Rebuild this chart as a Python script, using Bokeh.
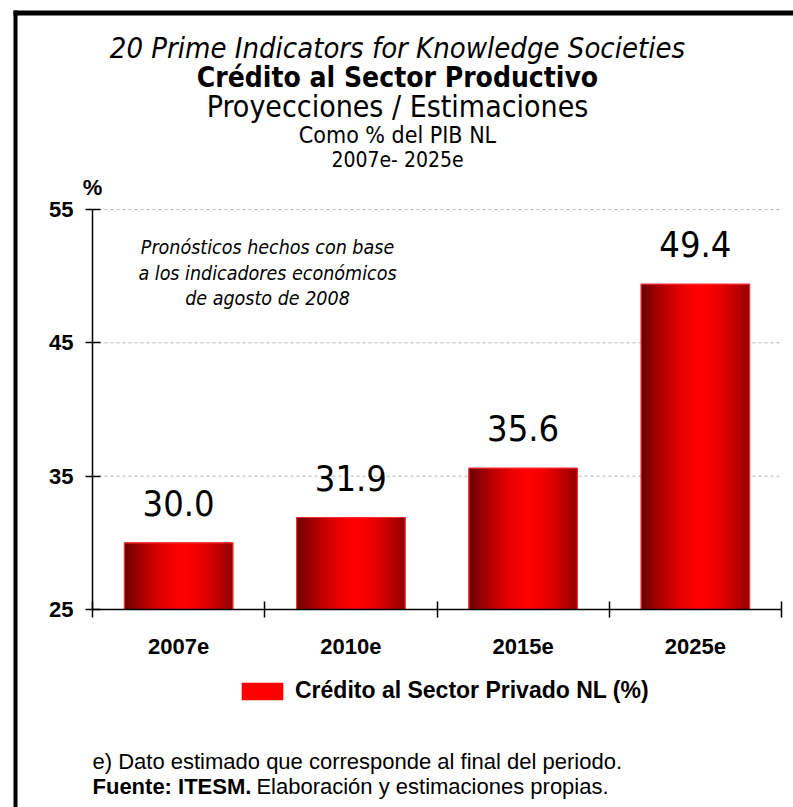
import numpy as np
from bokeh.plotting import figure
from bokeh.models import Range1d, FixedTicker, Label, Legend, LegendItem, BoxAnnotation
from bokeh.embed import file_html
from bokeh.resources import INLINE

# ---------------- data ----------------
categories = ["2007e", "2010e", "2015e", "2025e"]
values = [30.0, 31.9, 35.6, 49.4]
value_labels = ["30.0", "31.9", "35.6", "49.4"]
y_ticks = [25, 35, 45, 55]
title_lines = [
    "20 Prime Indicators for Knowledge Societies",
    "Crédito al Sector Productivo",
    "Proyecciones / Estimaciones",
    "Como % del PIB NL",
    "2007e- 2025e",
]
note_lines = [
    "Pronósticos hechos con base",
    "a los indicadores económicos",
    "de agosto de 2008",
]
legend_label = "Crédito al Sector Privado NL (%)"
footer_line1 = "e) Dato estimado que corresponde al final del periodo."
footer_bold = "Fuente: ITESM."
footer_rest = "Elaboración y estimaciones propias."
y_unit = "%"

# ---------------- layout ----------------
W, H = 793, 807
AX_L, AX_R = 92, 781          # page px of x = 0 and x = n
AX_T, AX_B = 209, 609         # page px of top / bottom y tick
n = len(categories)
Y0, Y1 = y_ticks[0], y_ticks[-1]
PXX = (AX_R - AX_L) / n
PXY = (AX_B - AX_T) / (Y1 - Y0)
NARROW = "DejaVu Sans Condensed, Roboto Condensed, Liberation Sans Narrow, Roboto"
SANS = "Liberation Sans"


def dx(px):
    return (px - AX_L) / PXX


def dy(py):
    return Y1 - (py - AX_T) / PXY


p = figure(width=W, height=H,
           x_range=Range1d(dx(0), dx(W)), y_range=Range1d(dy(H), dy(0)),
           output_backend="svg", toolbar_location=None,
           min_border=0, min_border_left=0, min_border_right=0,
           min_border_top=0, min_border_bottom=0)
p.outline_line_color = None
p.background_fill_color = "white"
p.border_fill_color = "white"

# ---------------- bars ----------------
centers = [i + 0.5 for i in range(n)]
bw = 0.63

base = p.vbar(x=centers, width=bw, top=values, bottom=Y0,
              fill_color="#ff0000", line_color=None)

NS = 54
sx_, sw_, st_, sc_ = [], [], [], []
dark = np.array([100, 0, 0])
bright = np.array([255, 0, 0])
for c, v in zip(centers, values):
    for k in range(NS):
        t = (k + 0.5) / NS
        f = max(0.0, 1 - (abs(t - 0.55) / 0.55) ** 1.6)
        col = dark + (bright - dark) * f
        sx_.append(c - bw / 2 + t * bw)
        sw_.append(bw / NS * 1.25)
        st_.append(v)
        sc_.append("#%02x%02x%02x" % tuple(int(round(a)) for a in col))
p.vbar(x=sx_, width=sw_, top=st_, bottom=Y0, fill_color=sc_, line_color=None)
p.vbar(x=centers, width=bw, top=values, bottom=Y0,
       fill_color=None, line_color="#ff2a2a", line_width=1.2)

# value labels
p.text(x=centers, y=values, text=value_labels, text_align="center",
       text_baseline="alphabetic", y_offset=-40,
       text_font={"value": NARROW}, text_font_size="36px", text_color="black")

# grid lines (dashed), from the tick values
grid_y = y_ticks[1:]
p.segment(x0=[0] * len(grid_y), x1=[n] * len(grid_y), y0=grid_y, y1=grid_y,
          line_color="#b4b4b4", line_dash="3 3", line_width=1, level="underlay")
p.grid.visible = False

# ---------------- axes ----------------
ya = p.yaxis[0]
ya.fixed_location = 0
ya.bounds = (Y0, Y1)
ya.ticker = FixedTicker(ticks=y_ticks, minor_ticks=[])
ya.major_tick_in = 8
ya.major_tick_out = 7
ya.minor_tick_in = 0
ya.minor_tick_out = 0
ya.axis_line_color = "black"
ya.axis_line_width = 1.5
ya.major_tick_line_color = "black"
ya.major_tick_line_width = 1.5
ya.major_label_text_color = "black"
ya.major_label_text_font = SANS
ya.major_label_text_font_style = "bold"
ya.major_label_text_font_size = "22px"
ya.major_label_standoff = 12

xa = p.xaxis[0]
xa.fixed_location = Y0
xa.bounds = (0, n)
xa.ticker = FixedTicker(ticks=centers, minor_ticks=list(range(n + 1)))
xa.major_label_overrides = {c: lab for c, lab in zip(centers, categories)}
xa.major_tick_in = 0
xa.major_tick_out = 0
xa.minor_tick_in = 8
xa.minor_tick_out = 8
xa.minor_tick_line_color = "black"
xa.minor_tick_line_width = 1.5
xa.axis_line_color = "black"
xa.axis_line_width = 1.5
xa.major_label_text_color = "black"
xa.major_label_text_font = SANS
xa.major_label_text_font_style = "bold"
xa.major_label_text_font_size = "22px"
xa.major_label_standoff = 21

# ---------------- texts ----------------
title_specs = [  # (y page px, size, style)
    (47, "29px", "italic"),
    (77, "28px", "bold"),
    (106, "30px", "normal"),
    (134, "23px", "normal"),
    (159, "21px", "normal"),
]
for txt, (yy, sz, st) in zip(title_lines, title_specs):
    p.add_layout(Label(x=dx(397), y=dy(yy), text=txt, text_align="center",
                       text_baseline="middle", text_font=NARROW,
                       text_font_size=sz, text_font_style=st, text_color="black"))

p.add_layout(Label(x=dx(92), y=dy(187), text=y_unit, text_align="center",
                   text_baseline="middle", text_font=SANS, text_font_size="22px",
                   text_font_style="bold", text_color="black"))

for txt, yy in zip(note_lines, [247, 273, 298]):
    p.add_layout(Label(x=dx(267), y=dy(yy), text=txt, text_align="center",
                       text_baseline="middle", text_font=NARROW,
                       text_font_size="19.5px", text_font_style="italic",
                       text_color="black"))

FS = 22
p.add_layout(Label(x=dx(92), y=dy(761), text=footer_line1, text_align="left",
                   text_baseline="middle", text_font=SANS, text_font_size=f"{FS}px",
                   text_color="black"))
p.add_layout(Label(x=dx(92), y=dy(786), text=footer_bold, text_align="left",
                   text_baseline="middle", text_font=SANS, text_font_size=f"{FS}px",
                   text_font_style="bold", text_color="black"))
p.add_layout(Label(x=dx(92 + 7.45 * FS), y=dy(786), text=footer_rest, text_align="left",
                   text_baseline="middle", text_font=SANS, text_font_size=f"{FS}px",
                   text_color="black"))

# legend
legend = Legend(items=[LegendItem(label=legend_label, renderers=[base])],
                location=(236, H - 704),
                orientation="horizontal", glyph_width=52, glyph_height=22,
                padding=0, margin=0, spacing=0, label_standoff=7,
                border_line_color=None, background_fill_alpha=0,
                label_text_font=SANS, label_text_font_style="bold",
                label_text_color="black",
                label_text_font_size="23px", label_height=22)
p.add_layout(legend)

# frame border (left and top)
p.add_layout(BoxAnnotation(left=dx(13), right=dx(17), top=dy(10), bottom=dy(H + 20),
                           fill_color="black", fill_alpha=1, line_color=None))
p.add_layout(BoxAnnotation(left=dx(13), right=dx(W + 20), top=dy(10), bottom=dy(15),
                           fill_color="black", fill_alpha=1, line_color=None))

open("out.html", "w").write(file_html(p, INLINE))
